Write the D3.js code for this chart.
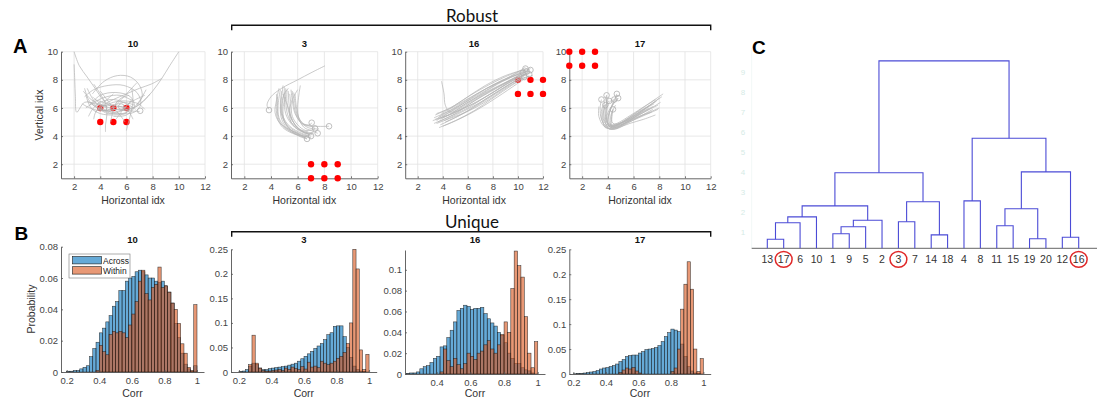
<!DOCTYPE html>
<html>
<head>
<meta charset="utf-8">
<script src="https://cdn.jsdelivr.net/npm/d3@7"></script>
<style>
  body { margin: 0; background: #fff; }
  svg { display: block; font-family: "Liberation Sans", Arial, sans-serif; }
</style>
</head>
<body>
<svg id="fig" width="1097" height="400"></svg>
<script>
// ---- Data ----

// Panel A: electrode grid positions (red) and trajectories (grey), per cluster
const trajXTicks = [2, 4, 6, 8, 10, 12];
const trajYTicks = [2, 4, 6, 8, 10];

const dots10 = [[4, 5], [5, 5], [6, 5], [4, 6], [5, 6], [6, 6]];
const dots3 = [[7, 1], [8, 1], [9, 1], [7, 2], [8, 2], [9, 2]];
const dots16 = [[10, 7], [11, 7], [12, 7], [10, 8], [11, 8], [12, 8]];
const dots17 = [[1, 9], [2, 9], [3, 9], [1, 10], [2, 10], [3, 10]];

const traj10 = [
  [[2.0, 10], [2.4, 9.0], [3.0, 8.2], [3.6, 7.4], [4.2, 6.6], [4.8, 6.1]],
  [[2.0, 9.1], [2.05, 8.0], [2.1, 6.8], [2.2, 5.7], [2.8, 6.4], [3.6, 6.3], [4.5, 6.0]],
  [[10, 10], [9.3, 9.0], [8.7, 8.1], [8.0, 7.2], [7.3, 6.5], [6.5, 6.0], [5.5, 5.8]],
  [[2.8, 6.8], [3.5, 7.3], [4.6, 7.6], [5.8, 7.6], [6.8, 7.1], [7.1, 6.3], [6.6, 5.7], [5.5, 5.6], [4.5, 5.8]],
  [[3.2, 6.2], [4.0, 6.9], [5.2, 7.1], [6.3, 6.8], [6.6, 6.1], [6.0, 5.5], [5.0, 5.4]],
  [[3.5, 7.7], [4.0, 7.0], [4.4, 6.3], [4.5, 5.5], [4.4, 4.8], [4.4, 4.3]],
  [[6.4, 7.4], [6.5, 6.5], [6.3, 5.5], [6.1, 4.8], [6.0, 4.4]],
  [[2.6, 6.3], [3.2, 6.0], [4.0, 5.8], [5.0, 5.9], [6.0, 5.8], [7.0, 5.75]],
  [[3.0, 7.4], [3.6, 6.4], [4.3, 5.9], [5.0, 5.7], [5.8, 5.9]],
  [[7.8, 7.0], [7.2, 6.4], [6.5, 6.0], [5.5, 6.1], [4.5, 6.3], [3.6, 6.6]],
  [[3.4, 7.0], [4.3, 7.9], [5.3, 8.3], [6.3, 8.2], [7.0, 7.6], [7.2, 6.8], [6.8, 6.2]],
  [[8.7, 8.1], [7.9, 7.7], [7.0, 7.4], [6.0, 7.0], [5.0, 6.6], [4.2, 6.2]],
  [[2.9, 6.9], [3.3, 6.0], [4.0, 5.6], [5.0, 5.5], [5.9, 5.6], [6.3, 6.0]],
  [[4.8, 5.0], [4.9, 5.5], [5.1, 6.2], [5.6, 6.7], [6.2, 6.9]],
  [[3.1, 5.4], [3.4, 5.9], [4.0, 6.4], [5.0, 6.6], [6.0, 6.3], [6.7, 5.9]],
  [[5.2, 5.2], [5.6, 5.7], [6.0, 6.2], [6.7, 6.6], [7.4, 6.9]],
  [[3.0, 6.5], [3.8, 6.0], [4.6, 5.6], [5.4, 5.7], [6.0, 6.1], [6.4, 6.6]],
  [[2.7, 7.2], [3.3, 6.6], [4.1, 6.2], [5.0, 6.2], [5.8, 6.4], [6.6, 6.2]],
  [[3.4, 6.8], [4.0, 6.3], [4.8, 6.0], [5.6, 6.1], [6.2, 5.7], [6.5, 5.2]],
  [[3.6, 5.7], [4.2, 6.1], [5.0, 6.4], [5.9, 6.5], [6.9, 6.3], [7.4, 5.9]],
  [[2.9, 6.0], [3.7, 6.5], [4.5, 6.8], [5.5, 6.9], [6.5, 6.5]],
  [[4.0, 7.2], [4.5, 6.6], [5.0, 6.0], [5.5, 5.5], [5.9, 5.0]],
  [[3.3, 6.4], [4.1, 5.9], [4.9, 5.6], [5.7, 5.6], [6.4, 5.9], [7.0, 6.5], [7.5, 7.3]],
  [[5.0, 7.0], [4.4, 6.5], [3.9, 6.0], [3.6, 5.6], [3.5, 5.2]],
  [[2.8, 7.4], [3.1, 6.6], [3.6, 6.1], [4.4, 5.8], [5.3, 5.9], [6.1, 5.9]],
  [[6.8, 7.8], [6.2, 7.2], [5.6, 6.6], [5.0, 6.1], [4.4, 5.8], [3.8, 5.9]]
];
const ends10 = [[7.05, 5.8], [4.3, 6.0], [5.6, 6.1]];

const traj3 = [
  [[8.05, 9.0], [7.0, 8.5], [6.0, 8.0], [4.8, 7.4], [4.0, 6.8], [3.7, 6.2], [3.85, 5.9]],
  [[4.6, 7.4], [4.4, 6.5], [4.3, 5.7], [4.6, 5.0], [5.3, 4.5], [6.2, 4.1], [6.8, 3.9]],
  [[4.8, 7.2], [4.7, 6.3], [4.8, 5.5], [5.2, 4.8], [5.9, 4.3], [6.7, 4.0]],
  [[5.0, 7.5], [5.0, 6.5], [5.1, 5.6], [5.5, 4.9], [6.1, 4.4], [6.9, 4.1]],
  [[5.2, 7.3], [5.2, 6.4], [5.4, 5.5], [5.8, 4.8], [6.4, 4.3], [7.1, 4.1]],
  [[5.4, 7.0], [5.5, 6.2], [5.6, 5.4], [6.0, 4.8], [6.6, 4.4], [7.3, 4.5]],
  [[5.6, 7.2], [5.7, 6.3], [5.9, 5.5], [6.3, 4.9], [6.9, 4.8], [7.05, 4.95]],
  [[5.1, 6.8], [4.9, 6.0], [5.0, 5.1], [5.4, 4.5], [6.1, 4.0], [6.7, 3.8]],
  [[5.8, 7.0], [5.9, 6.1], [6.1, 5.3], [6.5, 4.8], [7.2, 4.7], [8.35, 4.7]],
  [[4.4, 7.0], [4.5, 6.2], [4.6, 5.3], [5.0, 4.7], [5.7, 4.2], [6.5, 3.9]],
  [[6.2, 7.6], [6.1, 7.0], [6.0, 6.0], [6.1, 5.2], [6.5, 4.6], [7.0, 4.4], [7.5, 4.2]],
  [[4.9, 7.0], [5.3, 6.0], [5.6, 5.1], [6.0, 4.6], [6.6, 4.2], [7.2, 4.3]],
  [[5.3, 7.4], [5.0, 7.0], [4.8, 6.3], [4.9, 5.4], [5.4, 4.7], [6.3, 4.2], [7.0, 4.0]],
  [[6.0, 7.3], [5.6, 6.6], [5.4, 5.8], [5.5, 5.0], [6.0, 4.5], [6.8, 4.2]],
  [[4.7, 7.3], [4.55, 6.4], [4.5, 5.5], [4.8, 4.8], [5.5, 4.3], [6.4, 4.0], [7.0, 3.9]],
  [[5.0, 7.1], [4.85, 6.3], [4.85, 5.4], [5.2, 4.7], [5.9, 4.2], [6.6, 3.9]],
  [[5.1, 7.4], [5.1, 6.6], [5.2, 5.7], [5.5, 5.0], [6.1, 4.5], [6.8, 4.3]],
  [[5.3, 7.2], [5.35, 6.3], [5.5, 5.4], [5.9, 4.7], [6.5, 4.3], [7.2, 4.2]],
  [[5.5, 7.3], [5.6, 6.5], [5.8, 5.6], [6.2, 5.0], [6.8, 4.6], [7.6, 4.5]],
  [[4.5, 6.8], [4.4, 6.0], [4.5, 5.2], [4.9, 4.6], [5.6, 4.2], [6.4, 4.0], [6.9, 4.1]],
  [[5.7, 7.1], [5.8, 6.3], [6.0, 5.4], [6.4, 4.9], [7.0, 4.7], [7.3, 4.55]],
  [[4.9, 7.6], [4.8, 6.8], [4.7, 6.0], [4.8, 5.2], [5.2, 4.6], [6.0, 4.2], [6.7, 3.8]]
];
const ends3 = [[3.85, 5.85], [7.05, 4.95], [8.35, 4.7], [7.3, 4.55], [6.7, 3.8], [7.5, 4.2], [7.0, 4.0]];

const traj16 = [
  [[3.3, 5.3], [4.5, 5.8], [6.0, 6.6], [7.5, 7.4], [9.0, 8.0], [10.5, 8.6]],
  [[3.6, 5.0], [5.0, 5.6], [6.5, 6.5], [8.0, 7.3], [9.5, 8.0], [10.6, 8.4]],
  [[3.8, 4.8], [5.2, 5.4], [6.6, 6.1], [8.2, 7.0], [9.6, 7.8], [10.4, 8.2]],
  [[3.4, 5.5], [4.8, 6.1], [6.2, 6.9], [7.8, 7.7], [9.2, 8.3], [10.7, 8.8]],
  [[3.9, 7.9], [4.1, 7.0], [4.2, 6.2], [4.6, 5.7], [6.0, 6.4], [7.6, 7.2], [9.2, 7.9], [10.5, 8.5]],
  [[3.5, 5.1], [4.9, 5.9], [6.3, 6.7], [7.9, 7.6], [9.4, 8.2], [10.8, 8.6]],
  [[4.0, 4.7], [5.3, 5.2], [6.8, 5.9], [8.4, 6.8], [9.9, 7.7], [10.9, 8.3]],
  [[3.2, 5.1], [4.4, 5.5], [5.8, 6.2], [7.3, 7.0], [8.8, 7.7], [10.2, 8.4]],
  [[3.7, 5.4], [5.0, 6.0], [6.6, 6.8], [8.3, 7.7], [9.8, 8.4], [11.0, 8.8]],
  [[4.1, 5.1], [5.5, 5.7], [7.0, 6.4], [8.6, 7.3], [10.0, 8.0], [11.2, 8.3]],
  [[3.5, 4.9], [4.7, 5.3], [6.1, 5.8], [7.7, 6.6], [9.2, 7.5], [10.4, 8.1]],
  [[3.9, 5.6], [5.3, 6.3], [6.9, 7.1], [8.4, 7.8], [9.7, 8.4], [10.6, 8.9]],
  [[3.3, 4.9], [4.6, 5.4], [6.0, 6.0], [7.6, 6.9], [9.1, 7.7], [10.3, 8.3]],
  [[3.6, 5.3], [5.0, 5.9], [6.4, 6.6], [8.0, 7.5], [9.5, 8.2], [10.7, 8.6]],
  [[4.2, 5.0], [5.6, 5.6], [7.2, 6.5], [8.8, 7.4], [10.1, 8.1], [11.0, 8.5]],
  [[3.5, 5.6], [4.6, 6.0], [6.0, 6.8], [7.4, 7.6], [9.0, 8.3], [10.4, 8.7]],
  [[3.8, 5.2], [5.2, 5.8], [6.7, 6.4], [8.2, 7.2], [9.7, 8.0], [10.8, 8.5]],
  [[3.4, 5.2], [4.8, 5.6], [6.4, 6.3], [8.0, 7.1], [9.4, 7.9], [10.5, 8.3]],
  [[4.0, 5.3], [5.4, 5.9], [6.9, 6.7], [8.5, 7.5], [9.9, 8.2], [10.9, 8.7]],
  [[3.7, 4.6], [5.0, 5.1], [6.5, 5.8], [8.0, 6.7], [9.5, 7.6], [10.6, 8.2]]
];
const ends16 = [[10.4, 8.5], [10.7, 8.6], [10.9, 8.4], [10.5, 8.2], [11.0, 8.7], [10.6, 8.8]];

const traj17 = [
  [[8.3, 7.0], [7.0, 6.2], [5.8, 5.5], [4.7, 4.9], [3.9, 4.7], [3.5, 5.2], [3.4, 6.0], [3.5, 6.6]],
  [[7.8, 6.5], [6.8, 5.9], [5.6, 5.2], [4.6, 4.7], [3.8, 4.6], [3.6, 5.3], [3.8, 6.2]],
  [[7.7, 5.5], [6.8, 5.2], [5.7, 4.9], [4.8, 4.6], [4.1, 4.5], [3.8, 5.1], [3.9, 6.0], [3.9, 6.9]],
  [[7.5, 6.1], [6.5, 5.6], [5.4, 5.0], [4.5, 4.6], [4.0, 4.8], [4.1, 5.6], [4.4, 6.3], [4.7, 7.0]],
  [[8.0, 6.7], [7.0, 6.0], [6.0, 5.3], [5.0, 4.8], [4.3, 4.7], [4.2, 5.3], [4.4, 5.9]],
  [[7.6, 6.3], [6.6, 5.8], [5.5, 5.2], [4.6, 4.8], [4.0, 4.9], [3.9, 5.6], [4.1, 6.4], [4.5, 6.6]],
  [[7.9, 5.9], [6.9, 5.5], [5.9, 5.1], [4.9, 4.7], [4.2, 4.6], [4.0, 5.2], [4.3, 6.1], [4.8, 6.7]],
  [[7.4, 5.7], [6.4, 5.4], [5.3, 4.9], [4.5, 4.5], [3.7, 4.7], [3.3, 5.4], [3.3, 6.1]],
  [[8.1, 6.4], [7.2, 5.9], [6.2, 5.4], [5.2, 5.0], [4.4, 4.9], [4.3, 5.6], [4.6, 6.2]],
  [[7.2, 6.0], [6.2, 5.5], [5.2, 5.0], [4.4, 4.7], [3.9, 5.0], [3.8, 5.8], [4.0, 6.6]],
  [[7.9, 6.2], [6.8, 5.7], [5.7, 5.1], [4.7, 4.6], [4.0, 4.6], [3.7, 5.4], [3.8, 6.2], [4.1, 6.5]],
  [[8.2, 6.8], [7.1, 6.1], [6.0, 5.4], [5.0, 4.9], [4.2, 4.8], [4.1, 5.5], [4.5, 6.6]],
  [[7.5, 5.9], [6.5, 5.4], [5.5, 4.9], [4.6, 4.5], [3.9, 4.6], [3.5, 5.3], [3.6, 6.1], [3.8, 6.2]],
  [[7.7, 6.6], [6.7, 6.0], [5.6, 5.3], [4.7, 4.8], [4.1, 4.7], [3.9, 5.3], [4.2, 6.0], [4.8, 6.7]],
  [[7.3, 6.2], [6.3, 5.7], [5.3, 5.1], [4.4, 4.7], [3.8, 4.9], [3.6, 5.7], [3.9, 6.9]],
  [[8.0, 6.0], [7.0, 5.6], [6.0, 5.2], [5.0, 4.8], [4.3, 4.6], [4.3, 5.2], [4.4, 5.9]]
];
const ends17 = [[3.5, 6.6], [3.9, 6.9], [4.7, 7.0], [4.8, 6.7], [4.4, 5.9], [3.8, 6.2], [4.5, 6.6], [4.1, 6.5]];

// Panel B: histogram bins (left edges, width 0.02) and probabilities
const binWidth = 0.02;
const binEdges = d3.range(40).map(i => +(0.2 + i * binWidth).toFixed(2));

const across10 = [0.0005, 0.0005, 0.001, 0.001, 0.002, 0.003, 0.004, 0.0098, 0.015, 0.019,
  0.025, 0.028, 0.032, 0.036, 0.042, 0.045, 0.052, 0.052, 0.058, 0.060,
  0.061, 0.064, 0.065, 0.064, 0.062, 0.060, 0.060, 0.058, 0.057, 0.058,
  0.055, 0.051, 0.044, 0.031, 0.022, 0.012, 0.005, 0.002, 0.0005, 0.004];
const within10 = [0, 0, 0, 0, 0, 0, 0, 0, 0, 0.001,
  0.017, 0.013, 0.011, 0.024, 0.026, 0.025, 0.026, 0.025, 0.022, 0.030,
  0.037, 0.045, 0.058, 0.065, 0.050, 0.046, 0.054, 0.056, 0.067, 0.054,
  0.055, 0.051, 0.044, 0.040, 0.031, 0.018, 0.012, 0.003, 0.001, 0.043];

const across3 = [0.001, 0.002, 0.005, 0.012, 0.018, 0.015, 0.008, 0.005, 0.005, 0.007,
  0.008, 0.009, 0.010, 0.011, 0.012, 0.014, 0.016, 0.018, 0.022, 0.027,
  0.032, 0.037, 0.042, 0.048, 0.053, 0.058, 0.066, 0.076, 0.080, 0.093,
  0.094, 0.094, 0.072, 0.050, 0.030, 0.012, 0.005, 0.002, 0.001, 0];
const within3 = [0, 0, 0, 0.015, 0.075, 0.018, 0.008, 0.003, 0.002, 0.002,
  0.003, 0.004, 0.005, 0.003, 0.008, 0.005, 0.010, 0.007, 0.005, 0.011,
  0.006, 0.020, 0.010, 0.012, 0.009, 0.022, 0.018, 0.015, 0.018, 0.022,
  0.028, 0.032, 0.040, 0.058, 0.100, 0.250, 0.210, 0.045, 0.005, 0.036];

const across16 = [0, 0.0005, 0.001, 0.001, 0.002, 0.005, 0.007, 0.008, 0.011, 0.015,
  0.017, 0.026, 0.027, 0.035, 0.042, 0.050, 0.061, 0.063, 0.066, 0.065,
  0.062, 0.063, 0.063, 0.064, 0.058, 0.053, 0.049, 0.046, 0.040, 0.037,
  0.030, 0.020, 0.015, 0.010, 0.010, 0.006, 0.004, 0.003, 0.001, 0];
const within16 = [0, 0, 0, 0, 0, 0, 0, 0, 0, 0,
  0, 0.002, 0.024, 0.013, 0.007, 0.015, 0.009, 0.005, 0.010, 0.020,
  0.017, 0.014, 0.020, 0.022, 0.028, 0.032, 0.024, 0.020, 0.028, 0.038,
  0.050, 0.040, 0.082, 0.118, 0.104, 0.093, 0.055, 0.020, 0.006, 0.031];

const across17 = [0.0005, 0.001, 0.001, 0.002, 0.003, 0.004, 0.005, 0.007, 0.010, 0.012,
  0.013, 0.015, 0.017, 0.020, 0.025, 0.029, 0.035, 0.037, 0.038, 0.038,
  0.042, 0.045, 0.049, 0.050, 0.051, 0.053, 0.057, 0.065, 0.075, 0.083,
  0.090, 0.088, 0.085, 0.060, 0.035, 0.015, 0.006, 0.002, 0.001, 0];
const within17 = [0, 0, 0, 0, 0, 0, 0, 0, 0, 0,
  0, 0, 0, 0, 0.003, 0.008, 0.012, 0.010, 0.013, 0.006,
  0.002, 0, 0, 0, 0, 0, 0, 0, 0, 0,
  0.005, 0.012, 0.050, 0.130, 0.180, 0.225, 0.170, 0.050, 0.005, 0.031];

// Panel C: dendrogram linkage (MATLAB style: ids > 20 refer to earlier rows)
const leafCount = 20;
const linkage = [
  [13, 17, 0.45], [19, 20, 0.48], [12, 16, 0.55], [14, 18, 0.67], [1, 9, 0.73],
  [25, 5, 1.08], [11, 15, 1.13], [21, 6, 1.28], [3, 7, 1.33], [26, 2, 1.40],
  [28, 10, 1.57], [27, 22, 1.98], [31, 30, 2.12], [29, 24, 2.33], [4, 8, 2.37],
  [33, 34, 3.78], [32, 23, 3.82], [35, 37, 5.50], [36, 38, 9.37]
];
const circledLeaves = ['17', '3', '16'];
const dendroTicks = [1, 2, 3, 4, 5, 6, 7, 8, 9];

// ---- Drawing ----
const FONT = '"Liberation Sans", Arial, sans-serif';
const svg = d3.select('#fig');
svg.append('rect').attr('width', 1097).attr('height', 400).attr('fill', '#ffffff');

function styleAxis(g) {
  g.attr('font-family', FONT).attr('font-size', 9.5);
  g.select('.domain').attr('stroke', '#555').attr('stroke-width', 0.9);
  g.selectAll('.tick line').attr('stroke', '#555').attr('stroke-width', 0.8);
  g.selectAll('.tick text').attr('fill', '#444');
}

const fmt = d => String(+d.toFixed(3));

function drawTrajPanel(p) {
  const x = d3.scaleLinear().domain([1, 12]).range([p.left, p.right]);
  const y = d3.scaleLinear().domain([1, 10]).range([178.3, 51.7]);
  const g = svg.append('g');

  // grid
  g.selectAll('line.gx').data(trajXTicks).join('line')
    .attr('x1', d => x(d)).attr('x2', d => x(d))
    .attr('y1', y(1)).attr('y2', y(10))
    .attr('stroke', '#e2e2e2').attr('stroke-width', 0.8);
  g.selectAll('line.gy').data(trajYTicks).join('line')
    .attr('y1', d => y(d)).attr('y2', d => y(d))
    .attr('x1', x(1)).attr('x2', x(12))
    .attr('stroke', '#e2e2e2').attr('stroke-width', 0.8);

  const ax = g.append('g').attr('transform', `translate(0,${y(1)})`)
    .call(d3.axisBottom(x).tickValues(trajXTicks).tickSizeInner(-2).tickSizeOuter(0).tickPadding(5));
  const ay = g.append('g').attr('transform', `translate(${x(1)},0)`)
    .call(d3.axisLeft(y).tickValues(trajYTicks).tickSizeInner(-2).tickSizeOuter(0).tickPadding(3));
  styleAxis(ax); styleAxis(ay);

  // electrodes
  g.selectAll('circle.dot').data(p.dots).join('circle')
    .attr('cx', d => x(d[0])).attr('cy', d => y(d[1]))
    .attr('r', 3.2).attr('fill', '#ff0000');

  // trajectories
  const line = d3.line().x(d => x(d[0])).y(d => y(d[1])).curve(d3.curveCatmullRom.alpha(0.5));
  g.selectAll('path.traj').data(p.lines).join('path')
    .attr('d', line).attr('fill', 'none')
    .attr('stroke', '#b5b5b5').attr('stroke-width', 0.8).attr('stroke-opacity', 0.9);
  g.selectAll('circle.end').data(p.ends).join('circle')
    .attr('cx', d => x(d[0])).attr('cy', d => y(d[1]))
    .attr('r', 2.8).attr('fill', 'none').attr('stroke', '#b0b0b0').attr('stroke-width', 0.8);

  g.append('text').attr('x', (p.left + p.right) / 2).attr('y', 47)
    .attr('text-anchor', 'middle').attr('font-size', 9.5).attr('font-weight', 'bold')
    .attr('fill', '#111').text(p.title);
  g.append('text').attr('x', (p.left + p.right) / 2).attr('y', 204)
    .attr('text-anchor', 'middle').attr('font-size', 10.5).attr('fill', '#333')
    .text('Horizontal idx');
}

function drawHistPanel(p) {
  const x = d3.scaleLinear().domain(p.xDomain).range([p.left, p.right]);
  const y = d3.scaleLinear().domain([0, p.yMax]).range([p.base, p.top]);
  const g = svg.append('g');

  const series = [
    { vals: p.across, fill: '#0072bd' },
    { vals: p.within, fill: '#d95319' }
  ];
  series.forEach(s => {
    const bins = binEdges.map((e, i) => ({ e, v: s.vals[i] })).filter(d => d.v > 0);
    g.append('g').selectAll('rect').data(bins).join('rect')
      .attr('x', d => x(d.e)).attr('width', d => x(d.e + binWidth) - x(d.e))
      .attr('y', d => y(d.v)).attr('height', d => y(0) - y(d.v))
      .attr('fill', s.fill).attr('fill-opacity', 0.6)
      .attr('stroke', '#1a1a1a').attr('stroke-width', 0.55).attr('stroke-opacity', 0.85);
  });

  const ax = g.append('g').attr('transform', `translate(0,${p.base})`)
    .call(d3.axisBottom(x).tickValues(p.xTicks).tickFormat(fmt).tickSizeInner(-2).tickSizeOuter(0).tickPadding(5));
  const ay = g.append('g').attr('transform', `translate(${p.left},0)`)
    .call(d3.axisLeft(y).tickValues(p.yTicks).tickFormat(fmt).tickSizeInner(-2).tickSizeOuter(0).tickPadding(3));
  styleAxis(ax); styleAxis(ay);

  g.append('text').attr('x', (p.left + p.right) / 2).attr('y', 243)
    .attr('text-anchor', 'middle').attr('font-size', 9.5).attr('font-weight', 'bold')
    .attr('fill', '#111').text(p.title);
  g.append('text').attr('x', (p.left + p.right) / 2).attr('y', 397)
    .attr('text-anchor', 'middle').attr('font-size', 10.5).attr('fill', '#333')
    .text('Corr');
  return { g, x, y };
}

// Row A
drawTrajPanel({ title: '10', left: 61, right: 205, dots: dots10, lines: traj10, ends: ends10 });
drawTrajPanel({ title: '3', left: 231, right: 377.7, dots: dots3, lines: traj3, ends: ends3 });
drawTrajPanel({ title: '16', left: 405.2, right: 543, dots: dots16, lines: traj16, ends: ends16 });
drawTrajPanel({ title: '17', left: 569.3, right: 710.7, dots: dots17, lines: traj17, ends: ends17 });

svg.append('text').attr('transform', 'translate(43,115) rotate(-90)')
  .attr('text-anchor', 'middle').attr('font-size', 10.5).attr('fill', '#333').text('Vertical idx');

// Row B
const ticksX = [0.2, 0.4, 0.6, 0.8, 1];
const ticksSmall = [0, 0.02, 0.04, 0.06, 0.08];
const ticksMid = [0, 0.02, 0.04, 0.06, 0.08, 0.1];
const ticksBig = [0, 0.05, 0.1, 0.15, 0.2, 0.25];

drawHistPanel({ title: '10', left: 61, right: 204, xDomain: [0.165, 1.043], base: 372, top: 246.7,
  yMax: 0.08, xTicks: ticksX, yTicks: ticksSmall, across: across10, within: within10 });
drawHistPanel({ title: '3', left: 231, right: 376.7, xDomain: [0.151, 1.047], base: 372, top: 249.3,
  yMax: 0.25, xTicks: ticksX, yTicks: ticksBig, across: across3, within: within3 });
drawHistPanel({ title: '16', left: 405, right: 545, xDomain: [0.212, 1.043], base: 374, top: 250,
  yMax: 0.119, xTicks: [0.4, 0.6, 0.8, 1], yTicks: ticksMid, across: across16, within: within16 });
drawHistPanel({ title: '17', left: 569.3, right: 710.7, xDomain: [0.175, 1.045], base: 374, top: 249.3,
  yMax: 0.25, xTicks: ticksX, yTicks: ticksBig, across: across17, within: within17 });

svg.append('text').attr('transform', 'translate(35,309) rotate(-90)')
  .attr('text-anchor', 'middle').attr('font-size', 10.5).attr('fill', '#333').text('Probability');

// legend in B/10
const legend = svg.append('g');
legend.append('rect').attr('x', 69).attr('y', 254).attr('width', 61).attr('height', 24)
  .attr('fill', '#fff').attr('stroke', '#777').attr('stroke-width', 0.6);
[{ label: 'Across', fill: '#0072bd' }, { label: 'Within', fill: '#d95319' }].forEach((d, i) => {
  legend.append('rect').attr('x', 72.5).attr('y', 256.5 + i * 10.2).attr('width', 29).attr('height', 7.4)
    .attr('fill', d.fill).attr('fill-opacity', 0.6).attr('stroke', '#1a1a1a').attr('stroke-width', 0.6);
  legend.append('text').attr('x', 103).attr('y', 263.6 + i * 10.2)
    .attr('font-size', 8.5).attr('fill', '#222').text(d.label);
});

// Brackets and headings
function bracket(yLine, yText, label) {
  svg.append('path')
    .attr('d', `M231.7,${yLine + 5} V${yLine} H710.7 V${yLine + 5}`)
    .attr('fill', 'none').attr('stroke', '#111').attr('stroke-width', 1.4);
  svg.append('text').attr('x', 472).attr('y', yText).attr('text-anchor', 'middle')
    .attr('font-family', 'Lato, "Open Sans", sans-serif').attr('font-size', 17)
    .attr('fill', '#111').text(label);
}
bracket(25.3, 21.5, 'Robust');
bracket(231.7, 227.5, 'Unique');

// Panel letters
[['A', 13, 53, 20], ['B', 14.5, 240, 19], ['C', 752, 54, 19]].forEach(([t, x, y, s]) => {
  svg.append('text').attr('x', x).attr('y', y).attr('font-size', s).attr('font-weight', 'bold')
    .attr('fill', '#000').text(t);
});

// Panel C: dendrogram
const nodes = {};
for (let i = 1; i <= leafCount; i++) nodes[i] = { name: String(i), h: 0 };
linkage.forEach((row, k) => {
  nodes[leafCount + 1 + k] = { h: row[2], children: [nodes[row[0]], nodes[row[1]]] };
});
const rootData = nodes[leafCount + linkage.length];
const root = d3.hierarchy(rootData);
const leafStep = 16.39;
d3.cluster().separation(() => 1).size([leafStep * leafCount, 1])(root);
const dx0 = 767.3 - leafStep / 2;
const yD = d3.scaleLinear().domain([0, 10]).range([248.3, 48.3]);

const dg = svg.append('g');
// faint axis
dg.append('line').attr('x1', 751.7).attr('x2', 751.7).attr('y1', 48).attr('y2', 248.3)
  .attr('stroke', '#eef5f4').attr('stroke-width', 0.8);
dg.selectAll('text.ft').data(dendroTicks).join('text')
  .attr('x', 743).attr('y', d => yD(d) + 6.5).attr('text-anchor', 'middle')
  .attr('font-size', 8).attr('fill', '#d6ebe6').text(d => d);
dg.append('line').attr('x1', 751.7).attr('x2', 1097).attr('y1', 248.3).attr('y2', 248.3)
  .attr('stroke', '#555').attr('stroke-width', 0.9);

dg.selectAll('path.link').data(root.descendants().filter(d => d.children)).join('path')
  .attr('d', d => {
    const [a, b] = d.children;
    return `M${dx0 + a.x},${yD(a.data.h)} V${yD(d.data.h)} H${dx0 + b.x} V${yD(b.data.h)}`;
  })
  .attr('fill', 'none').attr('stroke', '#4b4bd6').attr('stroke-width', 1.1);

const leaves = root.leaves();
dg.selectAll('text.leaf').data(leaves).join('text')
  .attr('x', d => dx0 + d.x).attr('y', 263.2).attr('text-anchor', 'middle')
  .attr('font-size', 10.5).attr('fill', '#333').text(d => d.data.name);
dg.selectAll('ellipse.mark').data(leaves.filter(d => circledLeaves.includes(d.data.name))).join('ellipse')
  .attr('cx', d => dx0 + d.x).attr('cy', 259.4).attr('rx', 8.4).attr('ry', 7.9)
  .attr('fill', 'none').attr('stroke', '#e02828').attr('stroke-width', 1.5);
</script>
</body>
</html>
